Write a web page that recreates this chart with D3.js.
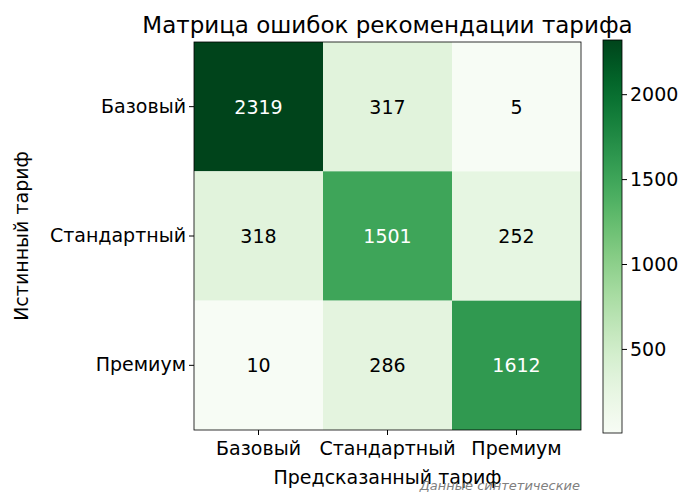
<!DOCTYPE html>
<html><head><meta charset="utf-8">
<script src="https://cdn.jsdelivr.net/npm/d3@7"></script>
<style>body{margin:0;background:#fff}text{font-family:"DejaVu Sans",sans-serif}</style>
</head><body><svg id="c" width="698" height="504"></svg>
<script>
const categories = ["Базовый","Стандартный","Премиум"];
const matrix = [[2319,317,5],[318,1501,252],[10,286,1612]];
const cbTicks = [500,1000,1500,2000];

const svg = d3.select("#c");
const L=194,R=581,T=42,B=430;
const x = d3.scaleBand().domain(categories).range([L,R]);
const y = d3.scaleBand().domain(categories).range([T,B]);
const vals = matrix.flat();
const vmin = d3.min(vals), vmax = d3.max(vals);
const color = d3.scaleSequential(d3.interpolateGreens).domain([vmin,vmax]);

const cells = [];
matrix.forEach((row,i)=>row.forEach((v,j)=>cells.push({r:categories[i],c:categories[j],v})));
svg.selectAll("rect.cell").data(cells).join("rect")
  .attr("x",d=>x(d.c)).attr("y",d=>y(d.r)).attr("width",x.bandwidth()).attr("height",y.bandwidth())
  .attr("fill",d=>color(d.v));
svg.selectAll("text.val").data(cells).join("text")
  .attr("x",d=>x(d.c)+x.bandwidth()/2).attr("y",d=>y(d.r)+y.bandwidth()/2)
  .attr("text-anchor","middle").attr("dominant-baseline","central").attr("font-size",19)
  .attr("fill",d=>d.v>(vmin+vmax)/2?"#fff":"#000").text(d=>d.v);
svg.append("rect").attr("x",L).attr("y",T).attr("width",R-L).attr("height",B-T).attr("fill","none").attr("stroke","#000").attr("stroke-width",0.8);

const xa = svg.append("g").attr("transform",`translate(0,${B})`).call(d3.axisBottom(x).tickSize(5).tickSizeOuter(0));
const ya = svg.append("g").attr("transform",`translate(${L},0)`).call(d3.axisLeft(y).tickSize(5).tickSizeOuter(0));
[xa,ya].forEach(a=>{a.select(".domain").remove();a.selectAll("text").attr("font-size",19).attr("fill","#000").style("font-family","DejaVu Sans");});
xa.selectAll("text").attr("dy","0.9em");

svg.append("text").attr("x",(L+R)/2).attr("y",33).attr("text-anchor","middle").attr("font-size",23).text("Матрица ошибок рекомендации тарифа");
svg.append("text").attr("x",(L+R)/2).attr("y",484).attr("text-anchor","middle").attr("font-size",19).text("Предсказанный тариф");
svg.append("text").attr("transform",`translate(28,${(T+B)/2}) rotate(-90)`).attr("text-anchor","middle").attr("font-size",19).text("Истинный тариф");
svg.append("text").attr("x",580).attr("y",490).attr("text-anchor","end").attr("font-size",13).attr("font-style","italic").attr("fill","#808080").text("Данные синтетические");

// colorbar
const cbL=603,cbW=19,cbT=40,cbB=433;
const cy = d3.scaleLinear().domain([vmin,vmax]).range([cbB,cbT]);
const defs = svg.append("defs");
const g = defs.append("linearGradient").attr("id","gr").attr("x1",0).attr("y1",1).attr("x2",0).attr("y2",0);
d3.range(0,1.01,0.05).forEach(t=>g.append("stop").attr("offset",t).attr("stop-color",d3.interpolateGreens(t)));
svg.append("rect").attr("x",cbL).attr("y",cbT).attr("width",cbW).attr("height",cbB-cbT).attr("fill","url(#gr)").attr("stroke","#000").attr("stroke-width",0.8);
const ca = svg.append("g").attr("transform",`translate(${cbL+cbW},0)`).call(d3.axisRight(cy).tickValues(cbTicks).tickFormat(d3.format("d")).tickSize(5));
ca.select(".domain").remove();
ca.selectAll("text").attr("font-size",19).attr("fill","#000").style("font-family","DejaVu Sans");
</script></body></html>
